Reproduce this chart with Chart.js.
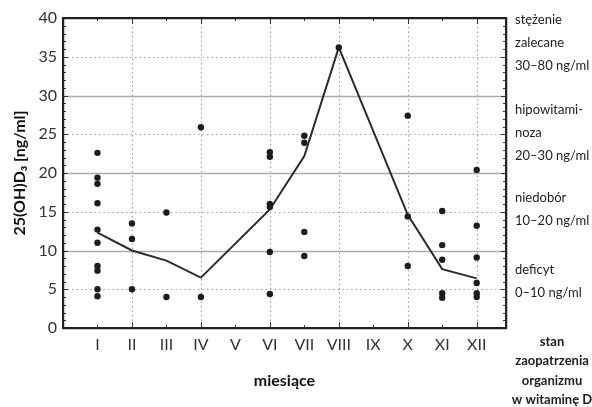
<!DOCTYPE html>
<html>
<head>
<meta charset="utf-8">
<script src="https://cdn.jsdelivr.net/npm/chart.js@4.4.1/dist/chart.umd.min.js"></script>
<style>
html,body{margin:0;padding:0;background:#fff;}
#wrap{width:592px;height:407px;position:relative;}
</style>
</head>
<body>
<div id="wrap"><canvas id="c" width="592" height="407"></canvas></div>
<script>
// ---- data ----
const months = ['I','II','III','IV','V','VI','VII','VIII','IX','X','XI','XII'];
const valsI    = [22.6, 19.4, 18.6, 16.1, 12.7, 11.0, 8.0, 7.4, 5.0, 4.1];
const valsII   = [13.5, 11.5, 5.0];
const valsIII  = [14.9, 4.0];
const valsIV   = [25.9, 4.0];
const valsV    = [];
const valsVI   = [22.7, 22.1, 16.0, 15.6, 9.8, 4.4];
const valsVII  = [24.8, 23.9, 12.4, 9.3];
const valsVIII = [36.2];
const valsIX   = [];
const valsX    = [27.4, 14.4, 8.0];
const valsXI   = [15.1, 10.7, 8.8, 4.5, 3.9];
const valsXII  = [20.4, 13.2, 9.1, 5.8, 4.5, 4.0];
const meanLine = [12.3, 10.0, 8.7, 6.5, null, 15.3, 22.2, 36.2, null, 14.6, 7.6, 6.4];
const yTicks = [0, 5, 10, 15, 20, 25, 30, 35, 40];
const yTitle = '25(OH)D\u2083 [ng/ml]';
const xTitle = 'miesiące';
const bandLabels = [
  ['stężenie', 'zalecane', '30–80 ng/ml'],
  ['hipowitami-', 'noza', '20–30 ng/ml'],
  ['niedobór', '10–20 ng/ml'],
  ['deficyt', '0–10 ng/ml']
];
const footerLabel = ['stan', 'zaopatrzenia', 'organizmu', 'w witaminę D'];

// ---- build ----
const perMonth = [valsI, valsII, valsIII, valsIV, valsV, valsVI, valsVII, valsVIII, valsIX, valsX, valsXI, valsXII];
const scatterPts = [];
perMonth.forEach((arr, i) => arr.forEach(v => scatterPts.push({x: i + 1, y: v})));
const linePts = [];
meanLine.forEach((v, i) => { if (v !== null) linePts.push({x: i + 1, y: v}); });

const FONT = 'Lato, "Open Sans", sans-serif';
const FRAME = '#222222';

const decor = {
  id: 'decor',
  beforeDatasetsDraw(chart) {
    const ctx = chart.ctx, a = chart.chartArea, x = chart.scales.x, y = chart.scales.y;
    ctx.save();
    yTicks.forEach(v => {
      if (v === 0 || v === 40) return;
      const py = Math.round(y.getPixelForValue(v)) + 0.5;
      ctx.beginPath();
      if (v % 10 === 0) { ctx.strokeStyle = '#ababab'; ctx.lineWidth = 1.6; ctx.setLineDash([]); }
      else { ctx.strokeStyle = '#a0a0a0'; ctx.lineWidth = 1.2; ctx.setLineDash([1.5, 3]); }
      ctx.moveTo(a.left, py); ctx.lineTo(a.right, py); ctx.stroke();
    });
    months.forEach((m, i) => {
      if ((i + 1) % 2 !== 0) return;
      const px = Math.round(x.getPixelForValue(i + 1)) + 0.5;
      ctx.beginPath();
      ctx.strokeStyle = '#a0a0a0'; ctx.lineWidth = 1.2; ctx.setLineDash([1.5, 3]);
      ctx.moveTo(px, a.top); ctx.lineTo(px, a.bottom); ctx.stroke();
    });
    ctx.restore();
  },
  afterDraw(chart) {
    const ctx = chart.ctx, a = chart.chartArea, x = chart.scales.x, y = chart.scales.y;
    ctx.save();
    ctx.setLineDash([]);
    ctx.globalAlpha = 1;
    ctx.strokeStyle = '#333333';
    ctx.lineWidth = 1;
    for (let v = 1; v < 40; v++) {
      const py = Math.round(y.getPixelForValue(v)) + 0.5;
      const len = (v % 5 === 0) ? 5 : 3;
      ctx.beginPath();
      ctx.moveTo(a.left, py); ctx.lineTo(a.left + len, py);
      ctx.moveTo(a.right, py); ctx.lineTo(a.right - len, py);
      ctx.stroke();
    }
    months.forEach((m, i) => {
      const px = Math.round(x.getPixelForValue(i + 1)) + 0.5;
      const len = ((i + 1) % 2 === 0) ? 6 : 3;
      ctx.beginPath();
      ctx.moveTo(px, a.bottom); ctx.lineTo(px, a.bottom - len);
      ctx.moveTo(px, a.top); ctx.lineTo(px, a.top + len);
      ctx.stroke();
    });
    ctx.lineWidth = 1.5;
    ctx.strokeStyle = FRAME;
    ctx.beginPath();
    ctx.rect(Math.round(a.left) + 0.5, Math.round(a.top) + 0.5, Math.round(a.right - a.left), Math.round(a.bottom - a.top));
    ctx.stroke();
    // right band labels
    ctx.fillStyle = '#222';
    ctx.font = '13px ' + FONT;
    ctx.textAlign = 'left';
    ctx.textBaseline = 'middle';
    const firstY = [20, 110, 198, 270];
    bandLabels.forEach((lines, k) => {
      lines.forEach((t, j) => ctx.fillText(t, a.right + 9, firstY[k] + j * 23));
    });
    ctx.font = 'bold 13px ' + FONT;
    ctx.textAlign = 'center';
    footerLabel.forEach((t, j) => ctx.fillText(t, 552, 342 + j * 19.3));
    ctx.restore();
  }
};

const borderOpt = {display: true, color: FRAME, width: 1.5};

new Chart(document.getElementById('c'), {
  data: {
    datasets: [
      {
        type: 'line',
        data: linePts,
        borderColor: '#2b2b2b',
        borderWidth: 2,
        pointRadius: 0,
        fill: false,
        tension: 0,
        order: 2
      },
      {
        type: 'scatter',
        data: scatterPts,
        backgroundColor: '#1c1c1c',
        borderColor: '#1c1c1c',
        pointRadius: 3.2,
        borderWidth: 0,
        order: 1
      }
    ]
  },
  options: {
    responsive: false,
    animation: false,
    events: [],
    layout: {padding: 0},
    plugins: {legend: {display: false}, tooltip: {enabled: false}},
    scales: {
      x: {
        type: 'linear',
        min: 0,
        max: 12.85,
        afterBuildTicks: s => { s.ticks = months.map((m, i) => ({value: i + 1})); },
        afterFit: s => { s.height = 79; },
        grid: {display: false, drawTicks: false},
        border: borderOpt,
        ticks: {
          padding: 7,
          color: '#333',
          font: {family: FONT, size: 16},
          callback: v => months[v - 1],
          autoSkip: false,
          maxRotation: 0
        },
        title: {
          display: true,
          text: xTitle,
          color: '#111',
          font: {family: FONT, size: 16, weight: 'bold'},
          padding: {top: 0, bottom: 17}
        }
      },
      xTop: {
        type: 'linear',
        position: 'top',
        min: 0,
        max: 12.85,
        afterFit: s => { s.height = 18; },
        grid: {display: false, drawTicks: false},
        border: borderOpt,
        ticks: {display: false}
      },
      y: {
        min: 0,
        max: 40,
        afterBuildTicks: s => { s.ticks = yTicks.map(v => ({value: v})); },
        afterFit: s => { s.width = 63; },
        grid: {display: false, drawTicks: false},
        border: borderOpt,
        ticks: {
          padding: 6,
          color: '#333',
          font: {family: FONT, size: 16}
        },
        title: {
          display: true,
          text: yTitle,
          color: '#111',
          font: {family: FONT, size: 16, weight: 'bold'},
          padding: {top: 10, bottom: 0}
        }
      },
      y2: {
        position: 'right',
        min: 0,
        max: 40,
        afterFit: s => { s.width = 86; },
        grid: {display: false, drawTicks: false},
        border: borderOpt,
        ticks: {display: false}
      }
    }
  },
  plugins: [decor]
});
</script>
</body>
</html>
